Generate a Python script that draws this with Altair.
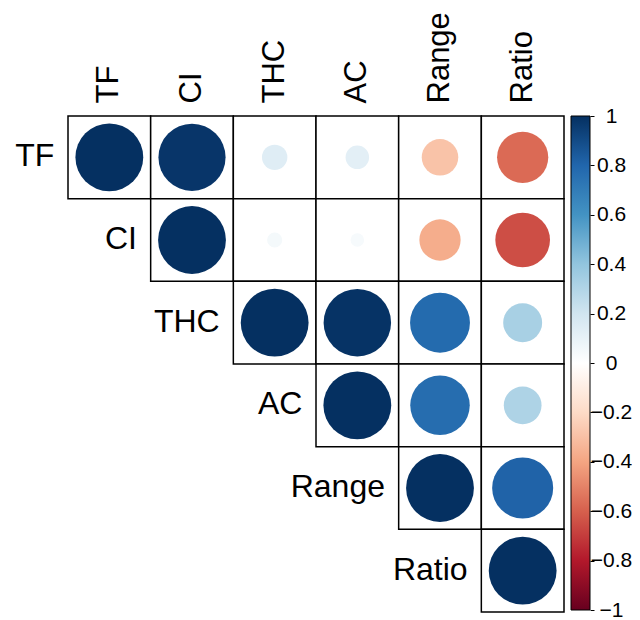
import altair as alt
import pandas as pd

variables = ["TF", "CI", "THC", "AC", "Range", "Ratio"]

# upper-triangle correlations, row by row (from the diagonal to the right)
r_TF = [1.00, 0.98, 0.14, 0.12, -0.29, -0.57]
r_CI = [1.00, 0.05, 0.04, -0.37, -0.65]
r_THC = [1.00, 0.99, 0.78, 0.33]
r_AC = [1.00, 0.77, 0.31]
r_Range = [1.00, 0.81]
r_Ratio = [1.00]

rows_vals = [r_TF, r_CI, r_THC, r_AC, r_Range, r_Ratio]

bar_ticks = [1, 0.8, 0.6, 0.4, 0.2, 0, -0.2, -0.4, -0.6, -0.8, -1]
palette = ["#67001F", "#B2182B", "#D6604D", "#F4A582", "#FDDBC7", "#FFFFFF",
           "#D1E5F0", "#92C5DE", "#4393C3", "#2166AC", "#053061"]
pal_domain = [-1, -0.8, -0.6, -0.4, -0.2, 0, 0.2, 0.4, 0.6, 0.8, 1]

recs = []
for i, vals in enumerate(rows_vals):
    for k, v in enumerate(vals):
        recs.append({"row": variables[i], "col": variables[i + k], "r": v, "absr": abs(v)})
df = pd.DataFrame(recs)
diag = pd.DataFrame({"row": variables, "col": variables})

FONT = "Liberation Sans"
W = 496

xenc = alt.X("col:N", sort=variables,
             scale=alt.Scale(paddingInner=0, paddingOuter=0),
             axis=alt.Axis(orient="top", title=None, labelAngle=270, labelFontSize=31,
                           labelFont=FONT, labelColor="black", ticks=False, domain=False,
                           labelPadding=13, labelLimit=300))
yenc = alt.Y("row:N", sort=variables,
             scale=alt.Scale(paddingInner=0, paddingOuter=0), axis=None)

cells = alt.Chart(df).mark_rect(fill="white", stroke="black", strokeWidth=1.5).encode(
    x=xenc, y=yenc)

circles = alt.Chart(df).mark_circle(opacity=1).encode(
    x=xenc, y=yenc,
    color=alt.Color("r:Q", scale=alt.Scale(domain=pal_domain, range=palette, interpolate="rgb"),
                    legend=None),
    size=alt.Size("absr:Q", scale=alt.Scale(domain=[0, 1], range=[0, 4600]), legend=None),
)

left_labels = alt.Chart(diag).mark_text(
    align="right", baseline="middle", fontSize=32, font=FONT, color="black", dx=-55, dy=-1
).encode(x=xenc, y=yenc, text="row:N")

main = alt.layer(cells, circles, left_labels).properties(width=W, height=W)

bar_df = pd.DataFrame({"lo": [-1], "hi": [1]})
gradient = alt.LinearGradient(
    gradient="linear", x1=0, y1=1, x2=0, y2=0,
    stops=[alt.GradientStop(offset=i / 10, color=c) for i, c in enumerate(palette)])

bar = alt.Chart(bar_df).mark_rect(color=gradient, stroke="black", strokeWidth=1).encode(
    x=alt.value(0), x2=alt.value(19),
    y=alt.Y("lo:Q", scale=alt.Scale(domain=[-1, 1], nice=False),
            axis=alt.Axis(orient="right", values=bar_ticks, format="~g", title=None,
                          domain=False, grid=False, tickColor="black", tickSize=4,
                          labelFontSize=21, labelFont=FONT, labelColor="black",
                          labelAlign="center", labelPadding=17, labelFlush=False)),
    y2="hi:Q",
).properties(width=19, height=494)

chart = alt.hconcat(main, bar, spacing=7, bounds="flush").properties(
    padding={"left": 7, "top": 3, "right": 0, "bottom": 0}
).configure_view(stroke=None)

chart.save("out.html", embed_options={"renderer": "svg", "actions": False})
